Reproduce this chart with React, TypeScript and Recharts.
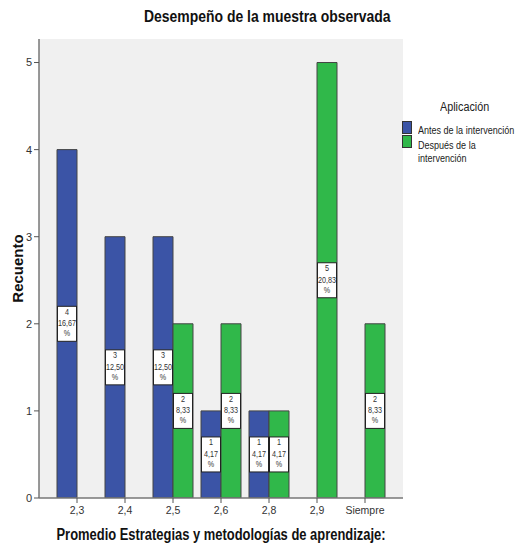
import { BarChart, Bar, XAxis, YAxis, CartesianGrid, Legend, LabelList } from 'recharts';

const categories = ['2,3', '2,4', '2,5', '2,6', '2,8', '2,9', 'Siempre'];
const antes = [4, 3, 3, 1, 1, null, null];
const despues = [null, null, 2, 2, 1, 5, 2];
const antesPct = ['16,67', '12,50', '12,50', '4,17', '4,17', '', ''];
const despuesPct = ['', '', '8,33', '8,33', '4,17', '20,83', '8,33'];
const yTicks = [0, 1, 2, 3, 4, 5];

const BLUE = '#3b54a6';
const GREEN = '#30b84a';
const FONT = '"Liberation Sans", Arial, sans-serif';

const data = categories.map((cat, i) => ({
  cat,
  antes: antes[i],
  despues: despues[i],
  antesLbl: antes[i] == null ? null : `${antes[i]}|${antesPct[i]}`,
  despuesLbl: despues[i] == null ? null : `${despues[i]}|${despuesPct[i]}`,
}));

const BoxLabel = (props: any) => {
  const { x, y, width, height, value } = props;
  if (value == null) return null;
  const [count, pct] = String(value).split('|');
  const cx = x + width / 2;
  const cy = y + height / 2;
  return (
    <g>
      <rect x={cx - 9.5} y={cy - 17.5} width={19} height={35} fill="#fff" stroke="#222" strokeWidth={1} />
      <g transform={`translate(${cx},${cy}) scale(0.76,1)`} fontSize={9.5} fontFamily={FONT} fill="#333" textAnchor="middle">
        <text x={0} y={-9}>{count}</text>
        <text x={0} y={2.5}>{pct}</text>
        <text x={0} y={12.5}>%</text>
      </g>
    </g>
  );
};

const XTitle = (props: any) => {
  const { viewBox } = props;
  const cx = viewBox.x + viewBox.width / 2;
  return (
    <text
      x={cx}
      y={viewBox.y + viewBox.height - 5}
      textAnchor="middle"
      textLength={329}
      lengthAdjust="spacingAndGlyphs"
      fontSize={16}
      fontWeight="bold"
      fontFamily={FONT}
      fill="#111"
    >
      Promedio Estrategias y metodologías de aprendizaje:
    </text>
  );
};

const LegendBox = () => (
  <div style={{ fontFamily: FONT, color: '#222', position: 'relative', width: 119, height: 70 }}>
    <div style={{ position: 'absolute', left: 40, top: 2, fontSize: 12, lineHeight: '14px', transform: 'scaleX(0.9)', transformOrigin: 'left center' }}>Aplicación</div>
    <div style={{ position: 'absolute', left: 2, top: 23, width: 10, height: 13, background: BLUE, boxSizing: 'border-box', border: '1px solid #333' }} />
    <div style={{ position: 'absolute', left: 18, top: 26, fontSize: 11, lineHeight: '12px', whiteSpace: 'nowrap', transform: 'scaleX(0.82)', transformOrigin: 'left center' }}>Antes de la intervención</div>
    <div style={{ position: 'absolute', left: 2, top: 37, width: 10, height: 13, background: GREEN, boxSizing: 'border-box', border: '1px solid #333' }} />
    <div style={{ position: 'absolute', left: 18, top: 41, fontSize: 11, lineHeight: '13px', whiteSpace: 'nowrap', transform: 'scaleX(0.82)', transformOrigin: 'left center' }}>Después de la<br />intervención</div>
  </div>
);

export default function App() {
  return (
    <div style={{ position: 'absolute', left: 0, top: 0, width: 519, height: 545, background: '#fff' }}>
      <div style={{ position: 'absolute', left: 0, top: 7, width: 535, textAlign: 'center' }}>
        <span style={{ display: 'inline-block', fontFamily: FONT, fontWeight: 'bold', fontSize: 17, color: '#111', transform: 'scaleX(0.82)' }}>
          Desempeño de la muestra observada
        </span>
      </div>
      <BarChart
        width={519}
        height={545}
        data={data}
        margin={{ top: 39, right: 116, bottom: 0, left: 0 }}
        barGap={0}
        barCategoryGap={4}
      >
        <CartesianGrid fill="#f0f0f0" horizontal={false} vertical={false} />
        <XAxis
          dataKey="cat"
          height={47}
          padding={{ left: 14, right: 14 }}
          axisLine={{ stroke: '#777', strokeWidth: 1.5 }}
          tickLine={{ stroke: '#555' }}
          tickSize={5}
          tickMargin={4}
          tick={{ fontSize: 10.5, fontFamily: FONT, fill: '#333' }}
          label={<XTitle />}
        />
        <XAxis xAxisId="top" dataKey="cat" orientation="top" height={0} tick={false} tickLine={false} axisLine={{ stroke: '#777', strokeWidth: 1.5 }} />
        <YAxis
          width={39}
          domain={[0, 5.27]}
          ticks={yTicks}
          allowDataOverflow
          axisLine={{ stroke: '#777', strokeWidth: 1.5 }}
          tickLine={{ stroke: '#555' }}
          tickSize={5}
          tickMargin={2}
          tick={{ fontSize: 11, fontFamily: FONT, fill: '#333' }}
          label={{ value: 'Recuento', angle: -90, position: 'center', dx: -2, style: { fontSize: 15, fontWeight: 'bold', fontFamily: FONT, fill: '#111', textAnchor: 'middle' } }}
        />
        <YAxis yAxisId="right" orientation="right" width={0} tick={false} tickLine={false} axisLine={{ stroke: '#777', strokeWidth: 1.5 }} />
        <Legend
          layout="horizontal"
          verticalAlign="middle"
          align="center"
          content={() => <LegendBox />}
          wrapperStyle={{ position: 'absolute', left: 400, top: 98, width: 119, height: 70 }}
        />
        <Bar dataKey="antes" name="Antes de la intervención" fill={BLUE} stroke="#444" strokeWidth={1} isAnimationActive={false}>
          <LabelList dataKey="antesLbl" content={BoxLabel} />
        </Bar>
        <Bar dataKey="despues" name="Después de la intervención" fill={GREEN} stroke="#444" strokeWidth={1} isAnimationActive={false}>
          <LabelList dataKey="despuesLbl" content={BoxLabel} />
        </Bar>
      </BarChart>
    </div>
  );
}
